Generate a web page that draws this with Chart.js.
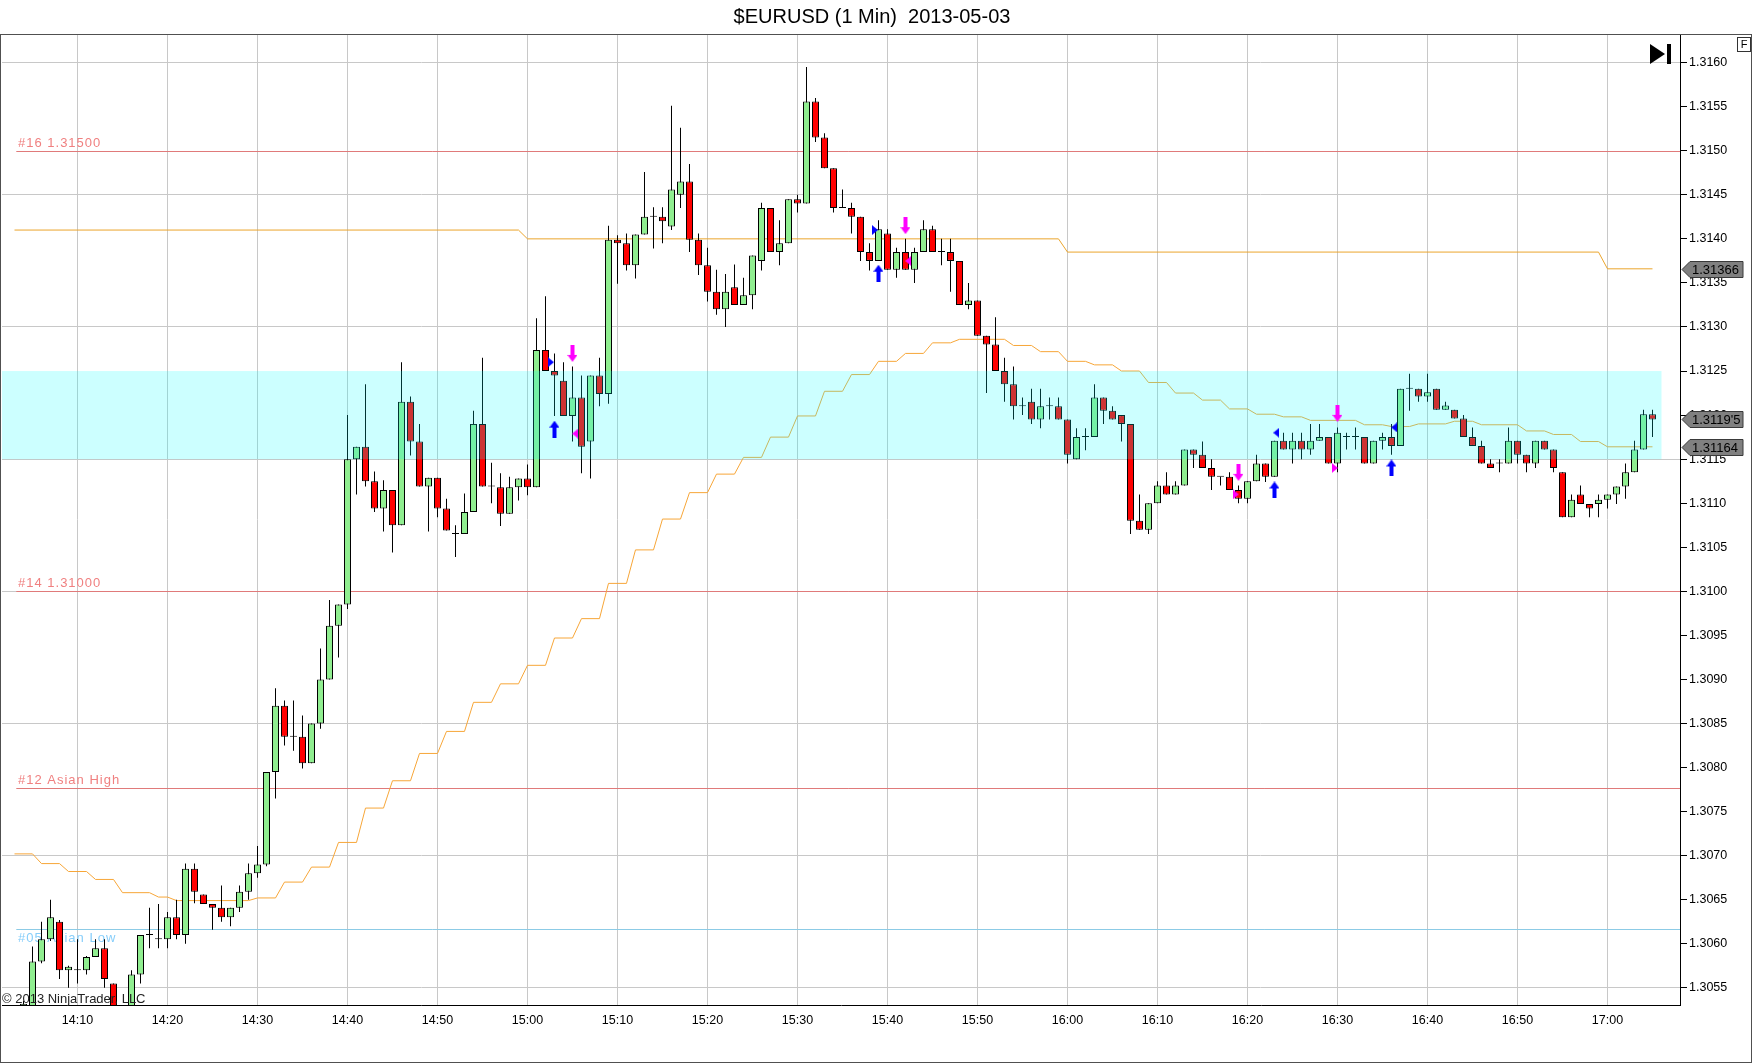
<!DOCTYPE html>
<html>
<head>
<meta charset="utf-8">
<title>$EURUSD (1 Min) 2013-05-03</title>
<script src="https://cdn.jsdelivr.net/npm/chart.js@4.4.0/dist/chart.umd.min.js"></script>
<style>
  html, body { margin: 0; padding: 0; background: #fff; }
  canvas { display: block; }
</style>
</head>
<body>
<canvas id="chart" width="1752" height="1064"></canvas>
<script>
// ================= DATA =================
// minutes are counted from 14:00, first bar is 14:04
const firstMinute = 4;

const opens = [
  1.30528, 1.30525, 1.30580, 1.30605, 1.30625, 1.30570,
  1.30570, 1.30570, 1.30585, 1.30595, 1.30555, 1.30518, 1.30520, 1.30565, 1.30610, 1.30605,
  1.30605, 1.30630, 1.30610, 1.30685, 1.30656, 1.30645, 1.30641, 1.30630, 1.30641, 1.30659,
  1.30680, 1.30690, 1.30795, 1.30870, 1.30835, 1.30835, 1.30805, 1.30850, 1.30900, 1.30961,
  1.30985, 1.31150, 1.31164, 1.31125, 1.31094, 1.31115, 1.31075, 1.31215, 1.31170, 1.31119,
  1.31129, 1.31094, 1.31065, 1.31065, 1.31090, 1.31190, 1.31119, 1.31118, 1.31088, 1.31118,
  1.31128, 1.31118, 1.31274, 1.31250, 1.31239, 1.31199, 1.31220, 1.31170, 1.31245, 1.31224,
  1.31399, 1.31395, 1.31370, 1.31405, 1.31425, 1.31425, 1.31414, 1.31450, 1.31465, 1.31399,
  1.31370, 1.31340, 1.31320, 1.31345, 1.31325, 1.31336, 1.31375, 1.31435, 1.31385, 1.31395,
  1.31445, 1.31440, 1.31556, 1.31515, 1.31480, 1.31435, 1.31435, 1.31425, 1.31385, 1.31375,
  1.31406, 1.31365, 1.31385, 1.31365, 1.31385, 1.31411, 1.31385, 1.31385, 1.31375, 1.31325,
  1.31330, 1.31290, 1.31280, 1.31250, 1.31235, 1.31210, 1.31215, 1.31195, 1.31210, 1.31210,
  1.31195, 1.31150, 1.31175, 1.31175, 1.31220, 1.31205, 1.31200, 1.31190, 1.31080, 1.31070,
  1.31100, 1.31120, 1.31110, 1.31120, 1.31161, 1.31155, 1.31140, 1.31130, 1.31130, 1.31115,
  1.31105, 1.31125, 1.31145, 1.31130, 1.31171, 1.31161, 1.31171, 1.31161, 1.31171, 1.31175,
  1.31145, 1.31175, 1.31175, 1.31175, 1.31145, 1.31171, 1.31175, 1.31165, 1.31230, 1.31230,
  1.31221, 1.31230, 1.31206, 1.31206, 1.31196, 1.31175, 1.31165, 1.31145, 1.31145, 1.31145,
  1.31171, 1.31155, 1.31145, 1.31171, 1.31161, 1.31135, 1.31084, 1.31110, 1.31099, 1.31099,
  1.31104, 1.31110, 1.31119, 1.31135, 1.31161, 1.31201
];
const highs = [
  1.30535, 1.30597, 1.30625, 1.30650, 1.30627, 1.30575,
  1.30605, 1.30586, 1.30605, 1.30605, 1.30555, 1.30522, 1.30570, 1.30610, 1.30641, 1.30645,
  1.30636, 1.30650, 1.30691, 1.30691, 1.30656, 1.30645, 1.30666, 1.30641, 1.30666, 1.30691,
  1.30711, 1.30795, 1.30890, 1.30876, 1.30876, 1.30859, 1.30850, 1.30935, 1.30990, 1.30985,
  1.31200, 1.31164, 1.31235, 1.31136, 1.31126, 1.31115, 1.31260, 1.31221, 1.31190, 1.31129,
  1.31129, 1.31105, 1.31075, 1.31111, 1.31205, 1.31265, 1.31146, 1.31134, 1.31130, 1.31128,
  1.31144, 1.31310, 1.31335, 1.31270, 1.31260, 1.31255, 1.31245, 1.31245, 1.31265, 1.31415,
  1.31404, 1.31406, 1.31405, 1.31476, 1.31436, 1.31436, 1.31551, 1.31526, 1.31485, 1.31406,
  1.31390, 1.31365, 1.31360, 1.31371, 1.31356, 1.31381, 1.31441, 1.31435, 1.31421, 1.31445,
  1.31450, 1.31595, 1.31560, 1.31520, 1.31480, 1.31456, 1.31441, 1.31425, 1.31395, 1.31421,
  1.31411, 1.31390, 1.31400, 1.31390, 1.31421, 1.31415, 1.31400, 1.31400, 1.31375, 1.31350,
  1.31330, 1.31290, 1.31311, 1.31265, 1.31255, 1.31220, 1.31230, 1.31230, 1.31220, 1.31220,
  1.31195, 1.31185, 1.31185, 1.31235, 1.31220, 1.31210, 1.31200, 1.31190, 1.31110, 1.31100,
  1.31125, 1.31135, 1.31125, 1.31161, 1.31161, 1.31170, 1.31150, 1.31130, 1.31135, 1.31120,
  1.31125, 1.31155, 1.31145, 1.31171, 1.31180, 1.31180, 1.31180, 1.31190, 1.31190, 1.31175,
  1.31186, 1.31180, 1.31186, 1.31175, 1.31171, 1.31180, 1.31190, 1.31230, 1.31247, 1.31230,
  1.31247, 1.31230, 1.31215, 1.31206, 1.31200, 1.31186, 1.31171, 1.31150, 1.31150, 1.31186,
  1.31171, 1.31155, 1.31171, 1.31171, 1.31161, 1.31135, 1.31110, 1.31120, 1.31099, 1.31110,
  1.31110, 1.31119, 1.31145, 1.31171, 1.31206, 1.31206
];
const lows = [
  1.30525, 1.30520, 1.30578, 1.30603, 1.30560, 1.30550,
  1.30555, 1.30565, 1.30585, 1.30550, 1.30510, 1.30500, 1.30510, 1.30555, 1.30595, 1.30595,
  1.30595, 1.30605, 1.30600, 1.30646, 1.30645, 1.30616, 1.30625, 1.30620, 1.30636, 1.30650,
  1.30675, 1.30688, 1.30765, 1.30825, 1.30819, 1.30799, 1.30805, 1.30844, 1.30900, 1.30925,
  1.30980, 1.31110, 1.31119, 1.31090, 1.31068, 1.31044, 1.31075, 1.31154, 1.31119, 1.31068,
  1.31084, 1.31069, 1.31039, 1.31065, 1.31090, 1.31119, 1.31100, 1.31074, 1.31088, 1.31103,
  1.31109, 1.31118, 1.31250, 1.31199, 1.31199, 1.31170, 1.31134, 1.31128, 1.31210, 1.31213,
  1.31349, 1.31364, 1.31355, 1.31405, 1.31389, 1.31395, 1.31410, 1.31435, 1.31385, 1.31359,
  1.31329, 1.31314, 1.31300, 1.31325, 1.31325, 1.31320, 1.31364, 1.31385, 1.31370, 1.31395,
  1.31430, 1.31440, 1.31510, 1.31480, 1.31430, 1.31435, 1.31406, 1.31375, 1.31364, 1.31375,
  1.31365, 1.31356, 1.31365, 1.31350, 1.31385, 1.31385, 1.31370, 1.31340, 1.31325, 1.31320,
  1.31290, 1.31225, 1.31250, 1.31215, 1.31195, 1.31200, 1.31190, 1.31185, 1.31195, 1.31195,
  1.31145, 1.31150, 1.31160, 1.31175, 1.31190, 1.31195, 1.31170, 1.31065, 1.31070, 1.31065,
  1.31100, 1.31110, 1.31110, 1.31120, 1.31140, 1.31140, 1.31115, 1.31120, 1.31115, 1.31100,
  1.31100, 1.31125, 1.31124, 1.31130, 1.31161, 1.31145, 1.31150, 1.31155, 1.31171, 1.31145,
  1.31135, 1.31161, 1.31161, 1.31145, 1.31145, 1.31161, 1.31155, 1.31165, 1.31205, 1.31215,
  1.31215, 1.31206, 1.31206, 1.31196, 1.31175, 1.31165, 1.31145, 1.31140, 1.31135, 1.31145,
  1.31145, 1.31135, 1.31140, 1.31161, 1.31135, 1.31084, 1.31084, 1.31099, 1.31084, 1.31084,
  1.31094, 1.31099, 1.31105, 1.31135, 1.31161, 1.31175
];
const closes = [
  1.30532, 1.30580, 1.30605, 1.30630, 1.30570, 1.30574,
  1.30570, 1.30585, 1.30595, 1.30560, 1.30520, 1.30505, 1.30565, 1.30610, 1.30610, 1.30605,
  1.30630, 1.30610, 1.30685, 1.30659, 1.30645, 1.30641, 1.30630, 1.30641, 1.30659, 1.30680,
  1.30690, 1.30795, 1.30870, 1.30835, 1.30835, 1.30805, 1.30850, 1.30900, 1.30961, 1.30985,
  1.31150, 1.31164, 1.31125, 1.31094, 1.31115, 1.31075, 1.31215, 1.31170, 1.31119, 1.31129,
  1.31094, 1.31069, 1.31065, 1.31090, 1.31190, 1.31119, 1.31119, 1.31088, 1.31118, 1.31128,
  1.31118, 1.31274, 1.31250, 1.31245, 1.31199, 1.31220, 1.31164, 1.31245, 1.31224, 1.31399,
  1.31395, 1.31370, 1.31405, 1.31425, 1.31425, 1.31420, 1.31456, 1.31465, 1.31399, 1.31370,
  1.31340, 1.31320, 1.31340, 1.31325, 1.31336, 1.31381, 1.31435, 1.31385, 1.31395, 1.31445,
  1.31440, 1.31556, 1.31515, 1.31480, 1.31435, 1.31435, 1.31425, 1.31385, 1.31375, 1.31411,
  1.31365, 1.31385, 1.31365, 1.31385, 1.31411, 1.31385, 1.31385, 1.31375, 1.31325, 1.31330,
  1.31290, 1.31280, 1.31250, 1.31235, 1.31210, 1.31210, 1.31195, 1.31210, 1.31210, 1.31195,
  1.31155, 1.31175, 1.31175, 1.31220, 1.31205, 1.31195, 1.31190, 1.31080, 1.31070, 1.31100,
  1.31120, 1.31110, 1.31120, 1.31161, 1.31155, 1.31140, 1.31130, 1.31130, 1.31115, 1.31105,
  1.31125, 1.31145, 1.31130, 1.31171, 1.31161, 1.31171, 1.31161, 1.31171, 1.31175, 1.31145,
  1.31180, 1.31175, 1.31175, 1.31145, 1.31171, 1.31175, 1.31165, 1.31230, 1.31230, 1.31221,
  1.31226, 1.31206, 1.31211, 1.31196, 1.31175, 1.31165, 1.31145, 1.31140, 1.31145, 1.31171,
  1.31155, 1.31145, 1.31171, 1.31161, 1.31140, 1.31084, 1.31104, 1.31099, 1.31094, 1.31104,
  1.31110, 1.31119, 1.31135, 1.31161, 1.31201, 1.31195
];

// stepped session line (plateaus: from minute, to minute, level)
const sessionFrom  = [3, 60, 120, 180];
const sessionTo    = [59, 119, 179, 185];
const sessionLevel = [1.31410, 1.31400, 1.31385, 1.31366];

// stepped average line (plateaus: from minute, to minute, level)
const avgFrom = [3, 6, 9, 12, 15, 19, 21, 30, 33, 36, 39, 42, 45, 48, 51, 54, 57, 60, 63, 66, 69, 72,
  75, 78, 81, 84, 87, 90, 93, 96, 99, 102, 105, 108, 114, 117, 120, 123, 126, 129, 132, 135, 138,
  141, 144, 147, 153, 156, 159, 163, 166, 171, 174, 177, 180];
const avgTo = [5, 8, 11, 14, 18, 20, 29, 32, 35, 38, 41, 44, 47, 50, 53, 56, 59, 62, 65, 68, 71, 74,
  77, 80, 83, 86, 89, 92, 95, 98, 101, 104, 107, 113, 116, 119, 122, 125, 128, 131, 134, 137, 140,
  143, 146, 152, 155, 158, 162, 165, 170, 173, 176, 179, 185];
const avgLevel = [1.30702, 1.30691, 1.30682, 1.30673, 1.30658, 1.30653, 1.30649, 1.30652, 1.30670,
  1.30687, 1.30715, 1.30754, 1.30785, 1.30816, 1.30841, 1.30874, 1.30895, 1.30916, 1.30947, 1.30969,
  1.31009, 1.31047, 1.31082, 1.31112, 1.31133, 1.31152, 1.31175, 1.31199, 1.31227, 1.31246, 1.31261,
  1.31270, 1.31282, 1.31286, 1.31279, 1.31272, 1.31261, 1.31257, 1.31250, 1.31237, 1.31225, 1.31217,
  1.31207, 1.31201, 1.31198, 1.31194, 1.31189, 1.31187, 1.31190, 1.31193, 1.31189, 1.31182, 1.31178,
  1.31170, 1.31164];

// horizontal levels
const levelValues = [1.31500, 1.31000, 1.30777, 1.30617];
const levelLabels = ["#16 1.31500", "#14 1.31000", "#12 Asian High", "#05 Asian Low"];

// zone
const zoneLow = 1.3115;
const zoneHigh = 1.3125;
const zoneEndMinute = 186;

// signal markers
const markerMinutes = [62.6, 63, 65, 65.3, 98.6, 99, 102, 102.3, 139, 138.7, 143.2, 143, 150, 149.7, 156.3, 156];
const markerPrices  = [1.31260, 1.31184, 1.31270, 1.31179, 1.31410, 1.31361, 1.31415, 1.31375,
                       1.31135, 1.31110, 1.31180, 1.31115, 1.31202, 1.31140, 1.31186, 1.31140];
const markerKinds   = ["triRightBlue", "upBlue", "downMagenta", "triLeftMagenta",
                       "triRightBlue", "upBlue", "downMagenta", "triLeftMagenta",
                       "downMagenta", "triRightMagenta", "triLeftBlue", "upBlue",
                       "downMagenta", "triRightMagenta", "triLeftBlue", "upBlue"];

// axis ticks
const timeTicks = [10, 20, 30, 40, 50, 60, 70, 80, 90, 100, 110, 120, 130, 140, 150, 160, 170, 180];
const priceTicks = [1.3055, 1.3060, 1.3065, 1.3070, 1.3075, 1.3080, 1.3085, 1.3090, 1.3095, 1.3100,
  1.3105, 1.3110, 1.3115, 1.3120, 1.3125, 1.3130, 1.3135, 1.3140, 1.3145, 1.3150, 1.3155, 1.3160];
const priceGridLines = [1.3055, 1.3070, 1.3085, 1.3100, 1.3115, 1.3130, 1.3145, 1.3160];

// ================= STYLE =================
const FONT = "'Liberation Sans', Arial, sans-serif";
const GREEN = "#90ee90";
const RED = "#ff0000";
const GRID = "#c8c8c8";
const levelColors = ["#e07a7a", "#e07a7a", "#e07a7a", "#8ccbe6"];
const levelTextColors = ["#f08080", "#f08080", "#f08080", "#87cefa"];
const levelLineStart = 3.2;

Chart.defaults.font.family = FONT;
Chart.defaults.color = "#000";

// ================= MARKER SHAPES =================
function makeArrow(color, up) {
  const c = document.createElement("canvas");
  c.width = 10; c.height = 17;
  const g = c.getContext("2d");
  g.fillStyle = color;
  g.beginPath();
  if (up) {
    g.moveTo(5, 0); g.lineTo(10, 7); g.lineTo(7, 7); g.lineTo(7, 17);
    g.lineTo(3, 17); g.lineTo(3, 7); g.lineTo(0, 7);
  } else {
    g.moveTo(5, 17); g.lineTo(10, 10); g.lineTo(7, 10); g.lineTo(7, 0);
    g.lineTo(3, 0); g.lineTo(3, 10); g.lineTo(0, 10);
  }
  g.closePath();
  g.fill();
  return c;
}

function makeTriangle(color, right) {
  const c = document.createElement("canvas");
  c.width = 6; c.height = 10;
  const g = c.getContext("2d");
  g.fillStyle = color;
  g.beginPath();
  if (right) { g.moveTo(0, 0); g.lineTo(6, 5); g.lineTo(0, 10); }
  else { g.moveTo(6, 0); g.lineTo(0, 5); g.lineTo(6, 10); }
  g.closePath();
  g.fill();
  return c;
}

const shapes = {
  upBlue: makeArrow("#0000ff", true),
  downMagenta: makeArrow("#ff00ff", false),
  triRightBlue: makeTriangle("#0000ff", true),
  triLeftBlue: makeTriangle("#0000ff", false),
  triLeftMagenta: makeTriangle("#ff00ff", false),
  triRightMagenta: makeTriangle("#ff00ff", true)
};

// ================= BUILD DATASETS =================
const barMinutes = opens.map((_, i) => firstMinute + i);
const wickData = barMinutes.map((m, i) => ({ x: m, y: [lows[i], highs[i]] }));
const bodyData = barMinutes.map((m, i) => ({ x: m, y: [opens[i], closes[i]] }));
const bodyColors = closes.map((c, i) => c > opens[i] ? GREEN : (c < opens[i] ? RED : "#000"));

function plateauPoints(from, to, level) {
  const pts = [];
  from.forEach((f, i) => {
    pts.push({ x: f, y: level[i] });
    if (to[i] !== f) pts.push({ x: to[i], y: level[i] });
  });
  return pts;
}

const markerData = markerMinutes.map((m, i) => ({ x: m, y: markerPrices[i] }));
const markerStyles = markerKinds.map(k => shapes[k]);

function timeLabel(v) {
  const h = 14 + Math.floor(v / 60);
  const mm = Math.round(v % 60);
  return h + ":" + (mm < 10 ? "0" : "") + mm;
}

function isGridPrice(v) {
  return priceGridLines.some(g => Math.abs(g - v) < 1e-7);
}

// ================= DECORATION PLUGIN =================
const BODY_INDEX = 3;

function priceTag(ctx, y, text) {
  ctx.save();
  ctx.beginPath();
  ctx.moveTo(1682, y);
  ctx.lineTo(1690, y - 8);
  ctx.lineTo(1743, y - 8);
  ctx.lineTo(1743, y + 8);
  ctx.lineTo(1690, y + 8);
  ctx.closePath();
  ctx.fillStyle = "#808080";
  ctx.fill();
  ctx.strokeStyle = "#3a3a3a";
  ctx.lineWidth = 1;
  ctx.stroke();
  ctx.fillStyle = "#000";
  ctx.font = "13px " + FONT;
  ctx.textAlign = "left";
  ctx.textBaseline = "middle";
  ctx.fillText(text, 1692, y + 1);
  ctx.restore();
}

const decor = {
  id: "decor",
  beforeDatasetsDraw(chart) {
    const { ctx, chartArea, scales } = chart;
    ctx.save();
    ctx.beginPath();
    ctx.rect(chartArea.left, chartArea.top, chartArea.right - chartArea.left, chartArea.bottom - chartArea.top);
    ctx.clip();
    const x0 = scales.x.getPixelForValue(levelLineStart);
    levelValues.forEach((v, i) => {
      const y = Math.round(scales.y.getPixelForValue(v)) + 0.5;
      ctx.strokeStyle = levelColors[i];
      ctx.lineWidth = 1;
      ctx.beginPath();
      ctx.moveTo(x0, y);
      ctx.lineTo(chartArea.right, y);
      ctx.stroke();
      ctx.fillStyle = levelTextColors[i];
      ctx.font = "13px " + FONT;
      ctx.letterSpacing = "1px";
      ctx.textAlign = "left";
      if (i === 3) {
        ctx.textBaseline = "top";
        ctx.fillText(levelLabels[i], 18, y + 2);
      } else {
        ctx.textBaseline = "bottom";
        ctx.fillText(levelLabels[i], 18, y - 2);
      }
    });
    ctx.restore();
  },
  afterDatasetDraw(chart, args) {
    if (args.index !== BODY_INDEX) return;
    const { ctx, chartArea, scales } = chart;
    const yTop = scales.y.getPixelForValue(zoneHigh);
    const yBot = scales.y.getPixelForValue(zoneLow);
    const xEnd = scales.x.getPixelForValue(zoneEndMinute);
    ctx.save();
    ctx.fillStyle = "rgba(0, 255, 255, 0.2)";
    ctx.fillRect(chartArea.left, yTop, xEnd - chartArea.left, yBot - yTop);
    ctx.restore();
  },
  afterDraw(chart) {
    const { ctx, scales } = chart;
    ctx.save();

    // title
    ctx.fillStyle = "#000";
    ctx.font = "20px " + FONT;
    ctx.textAlign = "center";
    ctx.textBaseline = "middle";
    ctx.fillText("$EURUSD (1 Min)  2013-05-03", 872, 17);

    // frame
    ctx.strokeStyle = "#505050";
    ctx.lineWidth = 1;
    ctx.strokeRect(0.5, 34.5, 1751, 1028);

    // "go to end" icon
    ctx.fillStyle = "#000";
    ctx.beginPath();
    ctx.moveTo(1650, 44);
    ctx.lineTo(1665, 54);
    ctx.lineTo(1650, 64);
    ctx.closePath();
    ctx.fill();
    ctx.fillRect(1667, 44, 4, 20);

    // "F" box
    ctx.strokeStyle = "#333";
    ctx.strokeRect(1737.5, 37.5, 13, 14);
    ctx.font = "11px " + FONT;
    ctx.textAlign = "center";
    ctx.textBaseline = "middle";
    ctx.fillText("F", 1744, 45);

    // last value tags
    const lastSession = sessionLevel[sessionLevel.length - 1];
    const lastClose = closes[closes.length - 1];
    const lastAvg = avgLevel[avgLevel.length - 1];
    const closeText = lastClose.toFixed(4) + "'" + lastClose.toFixed(5).slice(-1);
    priceTag(ctx, Math.round(scales.y.getPixelForValue(lastSession)) + 0.5, lastSession.toFixed(5));
    priceTag(ctx, Math.round(scales.y.getPixelForValue(lastClose)) + 0.5, closeText);
    priceTag(ctx, Math.round(scales.y.getPixelForValue(lastAvg)) + 0.5, lastAvg.toFixed(5));

    // copyright
    ctx.fillStyle = "#222";
    ctx.font = "13px " + FONT;
    ctx.textAlign = "left";
    ctx.textBaseline = "middle";
    ctx.fillText("\u00a9 2013 NinjaTrader, LLC", 2, 999);

    ctx.restore();
  }
};

// ================= CHART =================
new Chart(document.getElementById("chart"), {
  type: "bar",
  data: {
    datasets: [
      {
        type: "line",
        data: plateauPoints(sessionFrom, sessionTo, sessionLevel),
        borderColor: "#eba52c",
        borderWidth: 1,
        pointRadius: 0,
        order: 5,
        clip: 0
      },
      {
        type: "line",
        data: plateauPoints(avgFrom, avgTo, avgLevel),
        borderColor: "#f7a638",
        borderWidth: 1,
        pointRadius: 0,
        order: 4,
        clip: 0
      },
      {
        data: wickData,
        backgroundColor: "#000",
        borderWidth: 0,
        barThickness: 1,
        maxBarThickness: 1,
        inflateAmount: 0,
        grouped: false,
        order: 3,
        clip: 0
      },
      {
        data: bodyData,
        backgroundColor: bodyColors,
        borderColor: "#000",
        borderWidth: 1,
        borderSkipped: false,
        barThickness: 7,
        maxBarThickness: 7,
        minBarLength: 1,
        inflateAmount: 0,
        grouped: false,
        order: 2,
        clip: 0
      },
      {
        type: "line",
        data: markerData,
        showLine: false,
        pointStyle: markerStyles,
        pointRadius: 4,
        order: 1,
        clip: false
      }
    ]
  },
  options: {
    responsive: false,
    devicePixelRatio: 1,
    animation: false,
    events: [],
    layout: { autoPadding: false, padding: { top: 34, left: 2, right: 0, bottom: 0 } },
    plugins: {
      legend: { display: false },
      title: { display: false },
      tooltip: { enabled: false }
    },
    datasets: {
      bar: { barPercentage: 1, categoryPercentage: 1 }
    },
    scales: {
      x: {
        type: "linear",
        min: 1.6111,
        max: 188.0556,
        bounds: "data",
        offset: false,
        grid: { color: GRID, drawTicks: false, offset: false },
        border: { display: true, color: "#000" },
        afterBuildTicks: s => { s.ticks = timeTicks.map(v => ({ value: v })); },
        ticks: {
          autoSkip: false,
          maxRotation: 0,
          padding: 8,
          font: { size: 12.5 },
          color: "#000",
          callback: v => timeLabel(v)
        },
        afterFit: s => { s.height = 59; }
      },
      y: {
        type: "linear",
        position: "right",
        min: 1.305305,
        max: 1.316325,
        bounds: "data",
        grace: 0,
        grid: {
          color: c => (c.tick && isGridPrice(c.tick.value)) ? GRID : "rgba(0,0,0,0)",
          tickColor: "#000",
          tickLength: 7,
          drawTicks: true,
          offset: false
        },
        border: { display: true, color: "#000" },
        afterBuildTicks: s => { s.ticks = priceTicks.map(v => ({ value: v })); },
        ticks: {
          autoSkip: false,
          padding: 2,
          font: { size: 12.5 },
          color: "#000",
          callback: v => v.toFixed(4)
        },
        afterFit: s => { s.width = 72; }
      }
    }
  },
  plugins: [decor]
});
</script>
</body>
</html>
